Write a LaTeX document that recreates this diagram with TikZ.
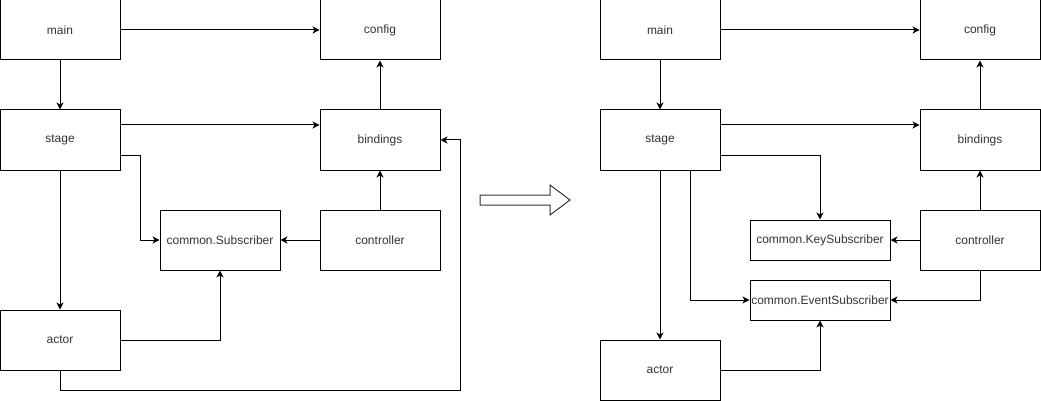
\documentclass[tikz,border=0pt]{standalone}
\usepackage{fontspec}
\setmainfont{Liberation Sans}
\usetikzlibrary{arrows.meta,positioning,calc}

\tikzset{
    box/.style={draw, line width=1pt, minimum width=120pt, minimum height=60pt, inner sep=0pt,
        font=\fontsize{12}{14}\selectfont, text=black!80},
    subbox/.style={box, minimum width=140pt, minimum height=40pt},
    link/.style={line width=1pt, -{Stealth[length=7pt,width=7pt,inset=2pt]}},
}

\begin{document}
\begin{tikzpicture}[x=1pt,y=-1pt]
    \useasboundingbox (0,0) rectangle (1041,401);

    % Before
    \node[box] (main) at (60,30) {main};
    \node[box] (config) at (380,30) {config};
    \node[box] (stage) at (60,140) {stage};
    \node[box] (bindings) at (380,140) {bindings};
    \node[box] (sub) at (220,240) {common.Subscriber};
    \node[box] (controller) at (380,240) {controller};
    \node[box] (actor) at (60,340) {actor};
    \coordinate (loop) at (460,390);

    \draw[link] (main) -- (config);
    \draw[link] (main) -- (stage);
    \draw[link] ([yshift=15pt]stage.east) -- ([yshift=15pt]bindings.west);
    \draw[link] ([yshift=-15pt]stage.east) -- ++(20,0) |- (sub.west);
    \draw[link] (stage) -- (actor);
    \draw[link] (bindings) -- (config);
    \draw[link] (controller) -- (bindings);
    \draw[link] (controller) -- (sub);
    \draw[link] (actor.east) -| (sub.south);
    \draw[link] (actor.south) |- (loop) |- (bindings.east);

    % Arrow
    \draw[line width=1pt, black!80] (480,195) -- (550,195) -- (550,185) -- (570,200)
        -- (550,215) -- (550,205) -- (480,205) -- cycle;

    % After
    \node[box] (main2) at (660,30) {main};
    \node[box] (config2) at (980,30) {config};
    \node[box] (stage2) at (660,140) {stage};
    \node[box] (bindings2) at (980,140) {bindings};
    \node[subbox] (keysub) at (820,240) {common.KeySubscriber};
    \node[box] (controller2) at (980,240) {controller};
    \node[subbox] (eventsub) at (820,300) {common.EventSubscriber};
    \node[box] (actor2) at (660,370) {actor};

    \draw[link] (main2) -- (config2);
    \draw[link] (main2) -- (stage2);
    \draw[link] ([yshift=15pt]stage2.east) -- ([yshift=15pt]bindings2.west);
    \draw[link] ([yshift=-15pt]stage2.east) -| (keysub.north);
    \draw[link] ([xshift=30pt]stage2.south) |- (eventsub.west);
    \draw[link] (stage2) -- (actor2);
    \draw[link] (bindings2) -- (config2);
    \draw[link] (controller2) -- (bindings2);
    \draw[link] (controller2) -- (keysub);
    \draw[link] (controller2.south) |- (eventsub.east);
    \draw[link] (actor2.east) -| (eventsub.south);
\end{tikzpicture}
\end{document}
